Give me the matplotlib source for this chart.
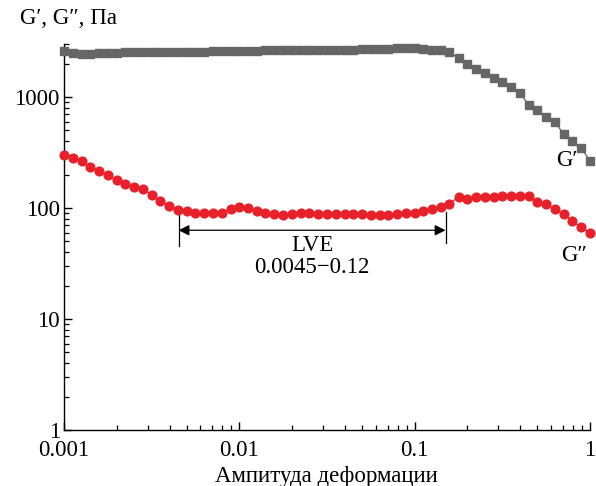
import matplotlib
matplotlib.use("Agg")
import matplotlib.pyplot as plt
from matplotlib.ticker import FixedLocator, LogLocator, NullFormatter, FixedFormatter

plt.rcParams['font.family'] = ['Liberation Serif', 'DejaVu Serif']

# Strain sweep grid: 20 points per decade
mantissa = [1.0, 1.12, 1.26, 1.41, 1.58, 1.78, 2.0, 2.24, 2.51, 2.82,
            3.16, 3.55, 3.98, 4.47, 5.01, 5.62, 6.31, 7.08, 7.94, 8.91]
strain = [m * 10.0 ** e for e in (-3, -2, -1) for m in mantissa] + [1.0]

# Storage modulus G', Pa
g_storage = [2580, 2470, 2460, 2460, 2470, 2470, 2480, 2530, 2530, 2540,
             2540, 2540, 2550, 2550, 2550, 2560, 2560, 2570, 2600, 2600,
             2610, 2620, 2620, 2630, 2630, 2640, 2640, 2640, 2650, 2650,
             2660, 2660, 2660, 2670, 2680, 2680, 2700, 2720, 2740, 2760,
             2740, 2700, 2650, 2650, 2530, 2230, 1970, 1780, 1635, 1490,
             1365, 1220, 1093, 847, 763, 660, 592, 464, 402, 345,
             267]

# Loss modulus G'', Pa
g_loss = [300, 280, 267, 235, 217, 197, 178, 166, 156, 147,
          132, 116, 105, 96, 93, 91, 91, 91, 91, 98,
          101, 99, 93, 90, 88, 86.5, 88, 91, 90, 89,
          89, 89, 89, 89, 88, 86.5, 86, 86.5, 89, 90,
          91, 93, 97, 103, 109, 126, 120, 125, 125, 126,
          128, 129, 127, 127, 113, 109, 97, 88, 76, 67,
          60]

# Linear viscoelastic region
lve_label = "0.0045\u22120.12"
lve_start = 0.0045
lve_end = 0.15

x_ticks = [0.001, 0.01, 0.1, 1]
x_ticklabels = ["0.001", "0.01", "0.1", "1"]
y_ticks = [1, 10, 100, 1000]
y_ticklabels = ["1", "10", "100", "1000"]

FS = 16.5
W, H = 596, 486
fig = plt.figure(figsize=(W / 100, H / 100), dpi=100)
ax = fig.add_axes([64 / W, (H - 430) / H, (590 - 64) / W, (430 - 44) / H])

ax.plot(strain, g_storage, color='#666666', lw=0.9, marker='s', ms=5.3,
        mec='#666666', mfc='#666666', clip_on=False, zorder=3)
ax.plot(strain, g_loss, color='#e8202a', lw=0.9, marker='o', ms=6.3,
        mec='#e8202a', mfc='#e8202a', clip_on=False, zorder=3)

ax.set_xscale('log')
ax.set_yscale('log')
ax.set_xlim(0.001, 1.0)
ax.set_ylim(1, 3000)

ax.xaxis.set_major_locator(FixedLocator(x_ticks))
ax.xaxis.set_major_formatter(FixedFormatter(x_ticklabels))
ax.xaxis.set_minor_locator(LogLocator(base=10, subs=range(2, 10)))
ax.xaxis.set_minor_formatter(NullFormatter())
ax.yaxis.set_major_locator(FixedLocator(y_ticks))
ax.yaxis.set_major_formatter(FixedFormatter(y_ticklabels))
ax.yaxis.set_minor_locator(LogLocator(base=10, subs=range(2, 10)))
ax.yaxis.set_minor_formatter(NullFormatter())

for s in ('top', 'right'):
    ax.spines[s].set_visible(False)
for s in ('left', 'bottom'):
    ax.spines[s].set_linewidth(1.0)
ax.tick_params(which='major', direction='in', length=6, width=1.0, labelsize=FS)
ax.tick_params(axis='x', which='major', pad=7)
ax.tick_params(axis='y', which='major', pad=3)
ax.tick_params(which='minor', direction='in', length=3.5, width=0.9)

# LVE range marker
ax.annotate('', xy=(lve_end, 63), xytext=(lve_start, 63),
            arrowprops=dict(arrowstyle='<|-|>', color='black', lw=0.9,
                            mutation_scale=16, shrinkA=0, shrinkB=0))
ax.plot([lve_start, lve_start], [45.5, 88], color='black', lw=0.9)
ax.plot([lve_end, lve_end], [48, 92], color='black', lw=0.9)
x_mid = (lve_start * lve_end) ** 0.5
ax.text(x_mid, 46, "LVE", ha='center', va='center', fontsize=FS)
ax.text(x_mid, 28.8, lve_label, ha='center', va='center', fontsize=FS)

ax.text(0.74, 268, "G\u2032", ha='center', va='center', fontsize=FS)
ax.text(0.81, 37.0, "G\u2033", ha='center', va='center', fontsize=FS)

fig.text(20 / W, 1 - 18 / H, "G\u2032, G\u2033, \u041f\u0430", ha='left', va='center', fontsize=FS)
fig.text(326 / W, 1 - 476 / H, "\u0410\u043c\u043f\u0438\u0442\u0443\u0434\u0430 \u0434\u0435\u0444\u043e\u0440\u043c\u0430\u0446\u0438\u0438",
         ha='center', va='center', fontsize=FS)

fig.savefig("out.png", dpi=100)
